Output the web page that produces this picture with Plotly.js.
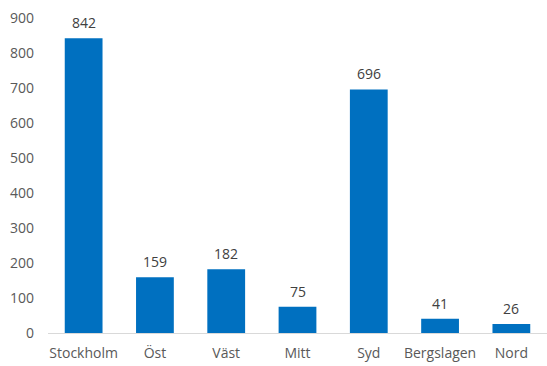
<!DOCTYPE html>
<html>
<head>
<meta charset="utf-8">
<script src="https://cdn.plot.ly/plotly-3.0.1.min.js"></script>
<style>html,body{margin:0;padding:0;background:#fff;}#chart{width:547px;height:366px;}</style>
</head>
<body>
<div id="chart"></div>
<script>
const categories = ["Stockholm", "Öst", "Väst", "Mitt", "Syd", "Bergslagen", "Nord"];
const values = [842, 159, 182, 75, 696, 41, 26];
const yTicks = [0, 100, 200, 300, 400, 500, 600, 700, 800, 900];

const trace = {
  type: "bar",
  x: categories,
  y: values,
  marker: {color: "#0070C0"},
  hoverinfo: "none"
};

const annotations = categories.map((c, i) => ({
  x: c, y: values[i], xref: "x", yref: "y",
  text: String(values[i]),
  showarrow: false, yanchor: "bottom", yshift: 4,
  font: {color: "#404040", size: 14, family: "Open Sans, sans-serif"}
}));

const layout = {
  width: 547, height: 366,
  margin: {l: 48, r: 0, t: 18, b: 33},
  paper_bgcolor: "#fff", plot_bgcolor: "#fff",
  bargap: 0.47,
  showlegend: false,
  annotations: annotations,
  font: {family: "Open Sans, sans-serif", size: 14, color: "#595959"},
  xaxis: {
    showgrid: false, showline: true, linecolor: "#d9d9d9", linewidth: 1,
    ticks: "", tickfont: {size: 14, color: "#595959"}, ticklabelstandoff: 7
  },
  yaxis: {
    range: [0, 900], tickvals: yTicks, ticktext: yTicks.map(String),
    showgrid: false, zeroline: false, showline: false, ticks: "",
    tickfont: {size: 14, color: "#595959"}, ticklabelstandoff: 13
  }
};

Plotly.newPlot("chart", [trace], layout, {staticPlot: true});
</script>
</body>
</html>
